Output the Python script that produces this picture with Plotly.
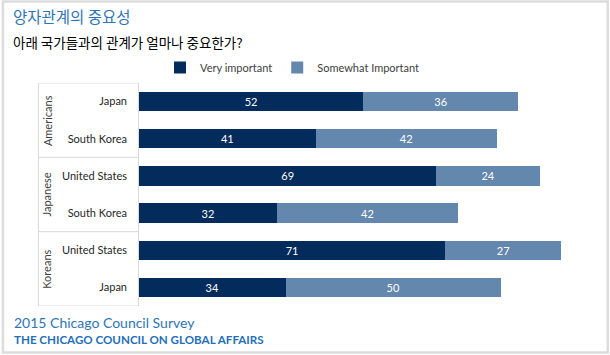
import plotly.graph_objects as go

groups = ["Americans", "Japanese", "Koreans"]
countries = ["Japan", "South Korea", "United States", "South Korea", "United States", "Japan"]
very_important = [52, 41, 69, 32, 71, 34]
somewhat_important = [36, 42, 24, 42, 27, 50]
series_names = ["Very important", "Somewhat Important"]
colors = ["#032B5C", "#6387AD"]

ypos = list(range(len(countries)))

# pixel geometry helpers
W, H = 610, 355
L, R = 139, 569.7
T, B = 83, 306
pw, ph = R - L, B - T

def px(x):
    return (x - L) / pw

def py(y):
    return (B - y) / ph

FONT = "Lato, 'Noto Sans CJK KR', sans-serif"
KFONT = "'Noto Sans CJK KR', 'Noto Sans', sans-serif"

fig = go.Figure()
for name, vals, col in zip(series_names, [very_important, somewhat_important], colors):
    fig.add_trace(go.Bar(
        x=vals, y=ypos, orientation="h", name=name,
        marker=dict(color=col, line=dict(width=0)),
        text=vals, textposition="inside", insidetextanchor="middle",
        textfont=dict(color="white", size=11, family=FONT),
        width=0.52,
    ))

shapes = []
# outer frame
shapes.append(dict(type="rect", xref="paper", yref="paper",
                   x0=px(3), x1=px(607.5), y0=py(352.5), y1=py(1.5),
                   line=dict(color="#dcdcdc", width=2.5), layer="below"))
# category box
box_col = "#d9d9d9"
shapes.append(dict(type="line", xref="paper", yref="y", x0=px(38.5), x1=px(38.5),
                   y0=-0.5, y1=5.5, line=dict(color=box_col, width=1)))
shapes.append(dict(type="line", xref="paper", yref="y", x0=px(138.5), x1=px(138.5),
                   y0=-0.5, y1=5.5, line=dict(color=box_col, width=1)))
for yb in [-0.5, 1.5, 3.5, 5.5]:
    shapes.append(dict(type="line", xref="paper", yref="y", x0=px(38.5), x1=px(138.5),
                       y0=yb, y1=yb, line=dict(color=box_col, width=1)))

annotations = []
for i, g in enumerate(groups):
    annotations.append(dict(text=g, xref="paper", yref="y", x=px(47), y=2 * i + 0.5,
                            showarrow=False, textangle=-90, xanchor="center", yanchor="middle",
                            font=dict(size=11, color="#404040", family=FONT)))
annotations.append(dict(text="양자관계의 중요성", xref="paper", yref="paper",
                        x=px(11), y=py(16), xanchor="left", yanchor="middle", showarrow=False,
                        font=dict(size=15.5, color="#2E75B6", family=KFONT)))
annotations.append(dict(text="아래 국가들과의 관계가 얼마나 중요한가?", xref="paper", yref="paper",
                        x=px(11), y=py(42), xanchor="left", yanchor="middle", showarrow=False,
                        font=dict(size=13.5, color="#000000", family=KFONT)))
annotations.append(dict(text="2015 Chicago Council Survey", xref="paper", yref="paper",
                        x=px(12), y=py(322), xanchor="left", yanchor="middle", showarrow=False,
                        font=dict(size=14, color="#2E75B6", family=FONT)))
annotations.append(dict(text="<b>THE CHICAGO COUNCIL ON GLOBAL AFFAIRS</b>", xref="paper", yref="paper",
                        x=px(12), y=py(339), xanchor="left", yanchor="middle", showarrow=False,
                        font=dict(size=11.6, color="#1F6FBA", family=FONT)))

fig.update_layout(
    width=W, height=H, barmode="stack",
    margin=dict(l=L, r=W - R, t=T, b=H - B, pad=0),
    paper_bgcolor="white", plot_bgcolor="white",
    font=dict(family=FONT, color="#262626", size=11),
    showlegend=True,
    legend=dict(orientation="h", xref="paper", yref="paper", x=px(160), y=py(53),
                xanchor="left", yanchor="top", traceorder="normal",
                font=dict(size=11, color="#404040", family=FONT),
                bgcolor="rgba(0,0,0,0)", itemsizing="constant"),
    xaxis=dict(range=[0, 100], visible=False, showgrid=False, zeroline=False, fixedrange=True),
    yaxis=dict(range=[5.5, -0.5], tickmode="array", tickvals=ypos, ticktext=countries,
               showgrid=False, zeroline=False, showline=False, ticks="",
               ticklabelstandoff=11, tickfont=dict(size=11, color="#262626", family=FONT)),
    shapes=shapes, annotations=annotations, bargap=0.48,
)

fig.write_html("out.html", config={"displayModeBar": False},
               post_script="document.body.style.margin='0';document.body.style.overflow='hidden';")
